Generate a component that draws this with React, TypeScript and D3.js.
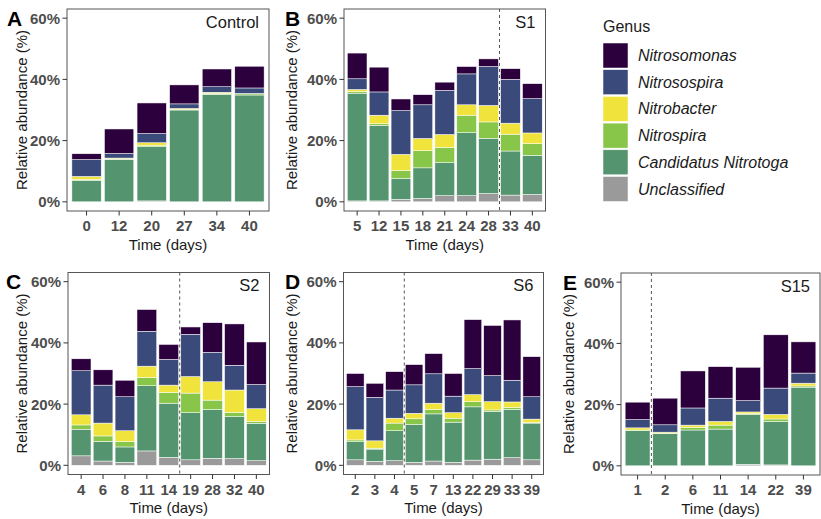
import React from "react";
import * as d3 from "d3";

// stack order, bottom -> top
const genera = [
  "Unclassified",
  "Candidatus Nitrotoga",
  "Nitrospira",
  "Nitrobacter",
  "Nitrosospira",
  "Nitrosomonas",
];
const genusColors = ["#9a9a9a", "#54956f", "#88c64a", "#f0e43c", "#3a4a7b", "#2b003c"];

// each row: one time point, values in the genera order above (%)
const daysA = ["0", "12", "20", "27", "34", "40"];
const rowsA = [
  [0, 7.0, 0.3, 1.0, 5.5, 1.9],
  [0, 13.9, 0.1, 0.3, 1.5, 8.0],
  [0.3, 17.7, 0.5, 0.8, 3.0, 10.0],
  [0, 30.0, 0.1, 0.4, 1.5, 6.2],
  [0, 35.1, 0.3, 0.4, 1.8, 5.8],
  [0, 34.9, 0.4, 0.1, 1.8, 7.1],
];

const daysB = ["5", "12", "15", "18", "21", "24", "28", "33", "40"];
const rowsB = [
  [0.3, 35.2, 0.5, 0.7, 3.5, 8.4],
  [0.3, 24.7, 0.5, 2.8, 7.6, 8.1],
  [0.8, 6.8, 2.6, 5.3, 14.3, 3.8],
  [1.1, 10.0, 5.6, 4.0, 11.0, 3.3],
  [2.0, 10.8, 5.0, 4.2, 14.4, 2.7],
  [2.0, 20.6, 5.7, 3.4, 10.1, 2.4],
  [2.7, 18.0, 5.4, 5.4, 12.7, 2.5],
  [2.2, 14.4, 5.5, 3.6, 14.3, 3.5],
  [2.4, 12.8, 3.8, 3.5, 11.2, 4.9],
];

const daysC = ["4", "6", "8", "11", "14", "19", "28", "32", "40"];
const rowsC = [
  [3.1, 8.7, 1.4, 3.3, 14.4, 3.9],
  [1.4, 6.4, 1.8, 4.2, 12.4, 5.0],
  [1.0, 5.0, 1.8, 3.5, 11.1, 5.4],
  [4.7, 21.3, 2.7, 3.7, 11.4, 7.1],
  [2.6, 17.7, 3.5, 2.4, 8.4, 4.9],
  [1.8, 15.4, 6.4, 5.4, 13.8, 2.4],
  [2.3, 15.9, 3.1, 6.0, 9.6, 9.7],
  [2.2, 13.7, 1.4, 7.3, 8.1, 13.5],
  [1.5, 12.2, 0.7, 4.1, 7.9, 13.9],
];

const daysD = ["2", "3", "4", "5", "7", "13", "22", "29", "33", "39"];
const rowsD = [
  [1.8, 5.9, 0.6, 3.3, 14.1, 4.3],
  [1.3, 4.0, 0.3, 2.4, 14.2, 4.6],
  [1.5, 9.8, 2.5, 1.6, 9.2, 6.0],
  [1.0, 12.3, 1.9, 1.8, 9.3, 6.6],
  [1.4, 15.4, 1.5, 2.0, 9.6, 6.6],
  [1.0, 13.1, 1.3, 1.8, 5.4, 7.4],
  [1.7, 17.4, 1.7, 2.3, 8.5, 16.0],
  [2.0, 15.6, 0.5, 2.7, 8.5, 16.4],
  [2.5, 15.8, 0.6, 1.8, 7.1, 19.7],
  [1.8, 12.0, 0.2, 1.1, 7.3, 13.1],
];

const daysE = ["1", "2", "6", "11", "14", "22", "39"];
const rowsE = [
  [0, 11.5, 0.2, 0.7, 2.7, 5.7],
  [0, 10.5, 0.1, 0.4, 2.4, 8.7],
  [0, 11.7, 0.8, 0.8, 5.6, 12.1],
  [0, 12.0, 1.3, 1.2, 7.6, 10.3],
  [0.5, 16.3, 0.2, 0.6, 3.7, 10.9],
  [0.3, 14.2, 0.8, 1.5, 8.6, 17.4],
  [0, 25.7, 0.4, 0.9, 3.3, 10.2],
];

const yTicks = [0, 20, 40, 60];

const FONT = "'Liberation Sans', Arial, Helvetica, sans-serif";
const TICK_COL = "#4d4d4d";

type PanelProps = {
  tag: string;
  label: string;
  days: string[];
  rows: number[][];
  dashAt: number | null;
  x: number;
  y: number;
  w: number;
  tagX: number;
  titleX: number;
};

function Panel({ tag, label, days, rows, dashAt, x, y, w, tagX, titleX }: PanelProps) {
  const h = 202;
  const xs = d3.scaleBand<string>().domain(days).range([x, x + w]).paddingInner(0.1).paddingOuter(0.15);
  const ys = d3.scaleLinear().domain([-3, 63]).range([y + h, y]);

  const table = rows.map((r, i) => {
    const o: any = { day: days[i] };
    genera.forEach((g, j) => (o[g] = r[j]));
    return o;
  });
  const series = d3.stack<any>().keys(genera)(table);

  const center = (d: string) => (xs(d) ?? 0) + xs.bandwidth() / 2;
  const dashX = dashAt != null ? (center(days[dashAt - 1]) + center(days[dashAt])) / 2 : null;

  return (
    <g fontFamily={FONT}>
      {series.map((s, si) => (
        <g key={si} fill={genusColors[si]}>
          {s.map((d: any, i: number) => {
            const hgt = ys(d[0]) - ys(d[1]);
            if (hgt <= 0.01) return null;
            return (
              <rect
                key={i}
                x={xs(d.data.day)}
                width={xs.bandwidth()}
                y={ys(d[1])}
                height={hgt}
                stroke="#ffffff"
                strokeWidth={0.5}
              />
            );
          })}
        </g>
      ))}
      {dashX != null && (
        <line x1={dashX} x2={dashX} y1={y} y2={y + h} stroke="#444" strokeWidth={0.9} strokeDasharray="3,3" />
      )}
      <rect x={x} y={y} width={w} height={h} fill="none" stroke="#555" strokeWidth={1} />

      {yTicks.map((t) => (
        <g key={t}>
          <line x1={x - 4.5} x2={x} y1={ys(t)} y2={ys(t)} stroke="#333" strokeWidth={1} />
          <text
            x={x - 7}
            y={ys(t)}
            dy="0.36em"
            textAnchor="end"
            fontSize={15}
            fontWeight="bold"
            fill={TICK_COL}
          >
            {t}%
          </text>
        </g>
      ))}
      {days.map((d) => (
        <g key={d}>
          <line x1={center(d)} x2={center(d)} y1={y + h} y2={y + h + 4.5} stroke="#333" strokeWidth={1} />
          <text x={center(d)} y={y + h + 20} textAnchor="middle" fontSize={15} fontWeight="bold" fill={TICK_COL}>
            {d}
          </text>
        </g>
      ))}

      <text x={x + w / 2} y={y + h + 38.5} textAnchor="middle" fontSize={15} fill="#1a1a1a">
        Time (days)
      </text>
      <text
        transform={`translate(${titleX},${y + h / 2}) rotate(-90)`}
        textAnchor="middle"
        dy="0.35em"
        fontSize={15}
        fill="#1a1a1a"
      >
        Relative abundance (%)
      </text>
      <text x={x + w - 10} y={y + 18.5} textAnchor="end" fontSize={16.5} fill="#1a1a1a">
        {label}
      </text>
      <text x={tagX} y={y + 16.5} fontSize={21} fontWeight="bold" fill="#000">
        {tag}
      </text>
    </g>
  );
}

function Legend({ x, y }: { x: number; y: number }) {
  const order = genera.map((g, i) => ({ g, c: genusColors[i] })).reverse();
  const key = 25;
  const step = 26.7;
  return (
    <g fontFamily={FONT}>
      <text x={x} y={y} fontSize={16} fill="#1a1a1a">
        Genus
      </text>
      {order.map((o, i) => (
        <g key={o.g} transform={`translate(${x},${y + 11.5 + i * step})`}>
          <rect width={key} height={key} fill={o.c} stroke="#ffffff" strokeWidth={0.5} />
          <text x={key + 10} y={key / 2} dy="0.35em" fontSize={16} fontStyle="italic" fill="#1a1a1a">
            {o.g}
          </text>
        </g>
      ))}
    </g>
  );
}

export default function App() {
  return (
    <svg
      width={821}
      height={519}
      viewBox="0 0 821 519"
      style={{ position: "absolute", left: 0, top: 0, background: "#fff" }}
    >
      <Panel tag="A" label="Control" days={daysA} rows={rowsA} dashAt={null} x={67} y={9} w={202} tagX={7} titleX={22} />
      <Panel tag="B" label="S1" days={daysB} rows={rowsB} dashAt={7} x={344} y={9} w={201.5} tagX={285} titleX={292} />
      <Panel tag="C" label="S2" days={daysC} rows={rowsC} dashAt={5} x={68} y={272.5} w={201.5} tagX={6} titleX={22} />
      <Panel tag="D" label="S6" days={daysD} rows={rowsD} dashAt={3} x={343.5} y={272.5} w={200} tagX={285} titleX={292} />
      <Panel tag="E" label="S15" days={daysE} rows={rowsE} dashAt={1} x={621} y={273} w={199} tagX={563} titleX={569} />
      <Legend x={603} y={31.5} />
    </svg>
  );
}
